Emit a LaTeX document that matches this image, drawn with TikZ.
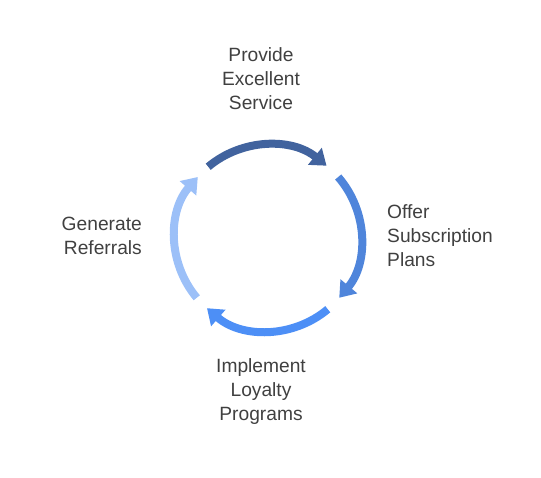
\documentclass[tikz,border=0pt]{standalone}
\usepackage{fontspec}
\setmainfont{Liberation Sans}
\usetikzlibrary{arrows.meta}
\definecolor{txt}{HTML}{404040}
\definecolor{cA}{HTML}{41639E}
\definecolor{cB}{HTML}{4F85DB}
\definecolor{cC}{HTML}{4D8FF6}
\definecolor{cD}{HTML}{9CC0F8}
\tikzset{
  lbl/.style={text=txt, font=\fontsize{19.2pt}{24pt}\selectfont, inner sep=0pt},
  seg/.style={line width=8pt, -{Triangle[width=21pt,length=15pt]}}
}
\begin{document}
\begin{tikzpicture}[x=1pt,y=1pt]
\useasboundingbox (0,0) rectangle (541,477);
\coordinate (c) at (268,239);
\draw[seg, cA] ([shift={(130:93)}]c) arc[start angle=130, end angle=51, radius=93];
\draw[seg, cB] ([shift={(41:93)}]c) arc[start angle=41, end angle=-40, radius=93];
\draw[seg, cC] ([shift={(-50:93)}]c) arc[start angle=-50, end angle=-131, radius=93];
\draw[seg, cD] ([shift={(-140:93)}]c) arc[start angle=-140, end angle=-221, radius=93];
\node[lbl, align=center] (top) at (261,398) {Provide\\Excellent\\Service};
\node[lbl, align=left, anchor=west] (right) at (387,241) {Offer\\Subscription\\Plans};
\node[lbl, align=right, anchor=east] (left) at (142,241) {Generate\\Referrals};
\node[lbl, align=center] (bottom) at (261,85) {Implement\\Loyalty\\Programs};
\end{tikzpicture}
\end{document}
